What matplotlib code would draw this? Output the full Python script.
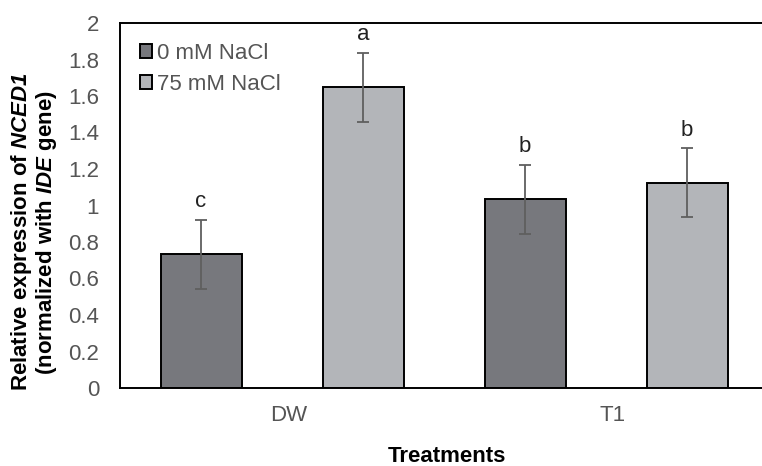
import matplotlib
matplotlib.use("Agg")
import matplotlib.pyplot as plt
import numpy as np

plt.rcParams['font.family'] = ['Liberation Sans', 'DejaVu Sans']
plt.rcParams['mathtext.fontset'] = 'custom'
plt.rcParams['mathtext.rm'] = 'Liberation Sans:bold:italic'
plt.rcParams['mathtext.it'] = 'Liberation Sans:bold:italic'
plt.rcParams['mathtext.bf'] = 'Liberation Sans:bold:italic'

categories = ["DW", "T1"]
series_names = ["0 mM NaCl", "75 mM NaCl"]
values_0 = [0.733, 1.034]
values_75 = [1.648, 1.125]
err_0 = [0.19, 0.19]
err_75 = [0.19, 0.19]
letters_0 = ["c", "b"]
letters_75 = ["a", "b"]
yticks = [0, 0.2, 0.4, 0.6, 0.8, 1, 1.2, 1.4, 1.6, 1.8, 2]
ytick_labels = ["0", "0.2", "0.4", "0.6", "0.8", "1", "1.2", "1.4", "1.6", "1.8", "2"]

FS = 16
W, H = 762, 466
fig = plt.figure(figsize=(W/100, H/100), dpi=100)
ax = fig.add_axes([120/W, 1-388/H, 648/W, 365/H])

x = np.arange(len(categories))
w = 0.25
off = 0.25
c0 = "#77787d"
c75 = "#b3b5b9"
ecol = "#5f5f5f"
ekw = dict(ecolor=ecol, elinewidth=1.3, capsize=4.5, capthick=1.3)

ax.bar(x - off, values_0, w, color=c0, edgecolor="black", linewidth=1.4,
       yerr=err_0, error_kw=ekw, label=series_names[0], zorder=2)
ax.bar(x + off, values_75, w, color=c75, edgecolor="black", linewidth=1.4,
       yerr=err_75, error_kw=ekw, label=series_names[1], zorder=2)

for xi, v, e, l in zip(x - off, values_0, err_0, letters_0):
    ax.text(xi, v + e + 0.04, l, ha="center", va="bottom", fontsize=FS, color="#222222")
for xi, v, e, l in zip(x + off, values_75, err_75, letters_75):
    ax.text(xi, v + e + 0.04, l, ha="center", va="bottom", fontsize=FS, color="#222222")

ax.set_xlim(-0.5, 1.5)
ax.set_ylim(0, 2)
ax.set_yticks(yticks)
ax.set_yticklabels(ytick_labels)
ax.set_xticks(x + 0.02)
ax.set_xticklabels(categories)
ax.tick_params(axis='both', length=0, labelsize=FS, labelcolor="#555555")
ax.tick_params(axis='y', pad=15)
ax.tick_params(axis='x', pad=12)
for s in ax.spines.values():
    s.set_linewidth(1.4)
    s.set_color("black")

fig.text(447/W, 1-457/H, "Treatments", fontsize=FS, fontweight="bold", ha="center", va="center")
fig.text(34/W, 1-232/H,
         "Relative expression of $NCED1$\n(normalized with $IDE$ gene)",
         fontsize=FS, fontweight="bold", rotation=90, ha="center", va="center",
         linespacing=1.05, multialignment="center")

ax.legend(loc="upper left", frameon=False, fontsize=FS, handlelength=0.55, handleheight=0.55,
          handletextpad=0.2, labelspacing=0.45, bbox_to_anchor=(0.0, 1.0),
          labelcolor="#555555", borderaxespad=0.5)

fig.savefig("out.png", dpi=100)
